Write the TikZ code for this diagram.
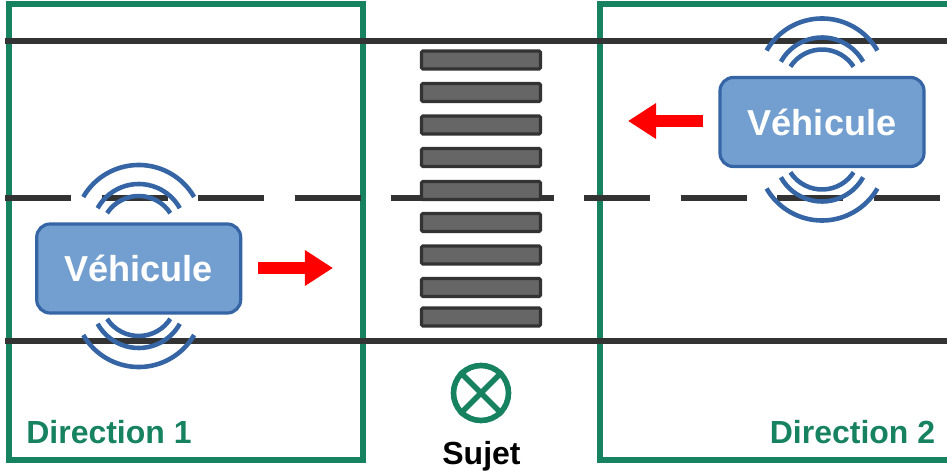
\documentclass[tikz,border=0pt]{standalone}
\usepackage{fontspec}
\setmainfont{Liberation Sans}
\usepackage{tikz}
\usetikzlibrary{arrows.meta,calc,positioning}
\definecolor{zonegreen}{HTML}{16825F}
\definecolor{roadgray}{HTML}{333333}
\definecolor{barfill}{HTML}{666666}
\definecolor{vehfill}{HTML}{729FCF}
\definecolor{vehline}{HTML}{3565A5}
\tikzset{
	zone/.style={draw=zonegreen,line width=4.5pt},
	road/.style={draw=roadgray,line width=5.3pt},
	roaddash/.style={road,dash pattern=on 1.98cm off 0.915cm},
	bar/.style={draw=roadgray,fill=barfill,line width=2.6pt,rounded corners=1pt,minimum width=3.57cm,minimum height=0.54cm,inner sep=0pt},
	vehicle/.style={draw=vehline,fill=vehfill,line width=2.7pt,rounded corners=0.4cm,minimum width=6.12cm,minimum height=2.67cm,inner sep=0pt,text=white,font=\bfseries\fontsize{30.8}{34}\selectfont},
	wave/.style={draw=vehline,line width=3.9pt},
	move/.style={draw=red,line width=10.2pt,-{Triangle[length=24pt,width=29pt]}},
	zonetext/.style={text=zonegreen,font=\bfseries\fontsize{27.3}{30}\selectfont,inner sep=0pt},
}
\begin{document}
\begin{tikzpicture}[x=0.03cm,y=0.03cm]
	\useasboundingbox (0,0) rectangle (947,473);
	\clip (0,0) rectangle (947,473);

	% zones
	\draw[zone] (9,13) rectangle (363,469);
	\draw[zone] (960,13) -- (600,13) -- (600,469) -- (960,469);

	% road
	\coordinate (TopL) at (5,432);
	\coordinate (TopR) at (947,432);
	\coordinate (MidL) at (5,275);
	\coordinate (MidR) at (947,275);
	\coordinate (LowL) at (5,132);
	\coordinate (LowR) at (947,132);
	\draw[road] (TopL) -- (TopR);
	\draw[roaddash] (MidL) -- (MidR);
	\draw[road] (LowL) -- (LowR);

	% crossing
	\foreach \y [count=\n] in {413,380.5,348,315.5,282.5,250.5,218,185.5,156}
		\node[bar] (B\n) at (481,\y) {};

	% vehicles
	\node[vehicle] (VehA) at (138.7,204.5) {Véhicule};
	\node[vehicle] (VehB) at (822,351) {Véhicule};

	\foreach \v in {VehA,VehB}
	{
		\foreach \r/\a/\c in {64/60/39.5,47/61/37.5,37.7/57/34.8}
		{
			\draw[wave] ($(\v.center)+(0,\c)+(90+\a:\r)$) arc[start angle=90+\a,end angle=90-\a,radius=\r];
			\draw[wave] ($(\v.center)+(0,5-\c)+(270-\a:\r)$) arc[start angle=270-\a,end angle=270+\a,radius=\r];
		}
	}

	% directions
	\coordinate (MoveA1) at (258,205);
	\coordinate (MoveA2) at (333,205);
	\coordinate (MoveB1) at (703,352);
	\coordinate (MoveB2) at (628,352);
	\draw[move] (MoveA1) -- (MoveA2);
	\draw[move] (MoveB1) -- (MoveB2);

	% subject
	\node[circle,draw=zonegreen,line width=4.8pt,minimum size=1.65cm,inner sep=0pt] (S) at (481,80) {};
	\draw[zonegreen,line width=4.8pt] (S.45) -- (S.225);
	\draw[zonegreen,line width=4.8pt] (S.135) -- (S.315);
	\node[inner sep=0pt,font=\bfseries\fontsize{27.3}{30}\selectfont] (SName) at (481.5,17) {Sujet};

	\node[zonetext] (Dir1) at (109,41) {Direction 1};
	\node[zonetext] (Dir2) at (852.5,41) {Direction 2};
\end{tikzpicture}
\end{document}
